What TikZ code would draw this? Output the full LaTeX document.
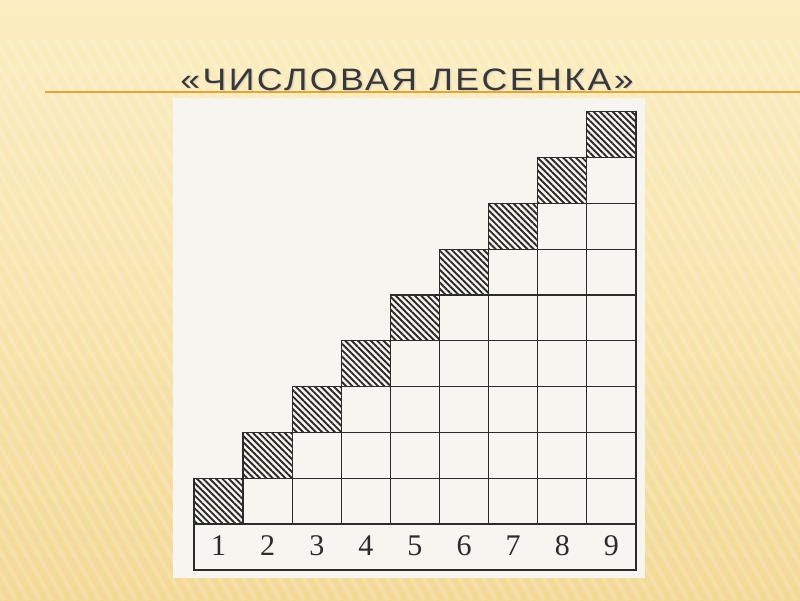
\documentclass[tikz,border=0pt]{standalone}
\usepackage{fontspec}
\setmainfont{Liberation Serif}
\newfontfamily\titlefont[LetterSpace=8,FakeStretch=1.15]{Liberation Sans}
\usetikzlibrary{patterns.meta}
\definecolor{bgtop}{HTML}{FCEEC2}
\definecolor{bgbottom}{HTML}{F3D996}
\definecolor{paper}{HTML}{F7F5F0}
\definecolor{titlegray}{HTML}{383838}
\definecolor{ruleorange}{HTML}{E2A53C}
\definecolor{ink}{HTML}{2B2B2B}

\begin{document}
\begin{tikzpicture}[x=1pt,y=-1pt,
    cell/.style={draw=ink, line width=1.3pt},
    hatched/.style={cell, pattern={Lines[angle=-45,distance=4.5pt,line width=1.9pt]}, pattern color=ink},
    digit/.style={font=\fontsize{30}{32}\selectfont, text=ink, inner sep=0pt},
    heading/.style={font=\titlefont\fontsize{31}{34}\selectfont, inner sep=0pt, anchor=base}]
  % Background
  \shade[top color=bgtop, bottom color=bgbottom] (0,0) rectangle (800,600);
  \useasboundingbox (0,0) rectangle (800,600);
  \begin{scope}
    \clip (0,40) rectangle (800,600);
    \foreach \s in {-400,-388,...,800} {
      \draw[white, opacity=0.18, line width=4pt] (\s,40) -- ++(320,560);
    }
  \end{scope}

  % Title
  \node[heading, text=black!25, opacity=0.5] at (408.5,91.5) {«ЧИСЛОВАЯ ЛЕСЕНКА»};
  \node[heading, text=titlegray] (title) at (407,90) {«ЧИСЛОВАЯ ЛЕСЕНКА»};
  \draw[ruleorange, line width=2pt] (45,92) -- (800,92);

  % Paper
  \fill[paper] (173,98) rectangle (645,578);

  % White cells
  \foreach \k in {2,...,9} {
    \pgfmathtruncatemacro\rows{\k-1}
    \foreach \r in {1,...,\rows} {
      \draw[cell] ({194+(\k-1)*49.1},{524-\r*45.8}) rectangle ++(49.1,45.8);
    }
  }

  % Hatched steps
  \foreach \k in {1,...,9} {
    \draw[hatched] ({194+(\k-1)*49.1},{524-\k*45.8}) rectangle ++(49.1,45.8);
  }

  % Number row
  \draw[cell] (194,524) rectangle (636,570);
  \foreach \k in {1,...,9} {
    \node[digit] (n\k) at ({194+(\k-0.5)*49.1},546) {\k};
  }
\end{tikzpicture}
\end{document}
